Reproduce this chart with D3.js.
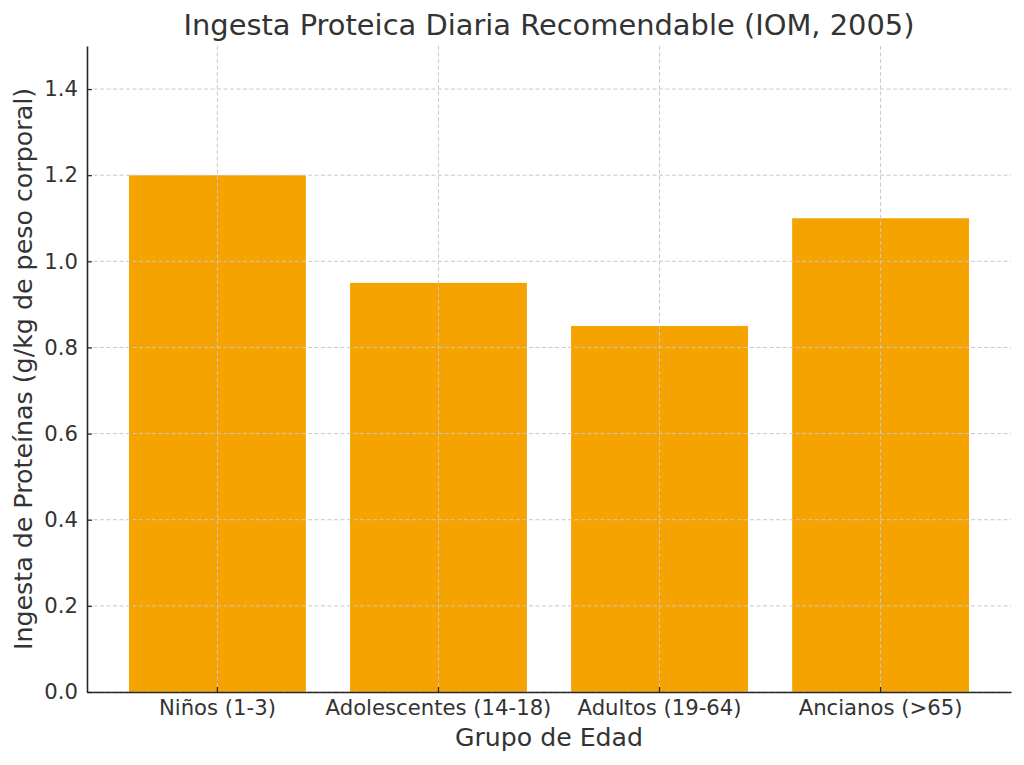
<!DOCTYPE html>
<html><head><meta charset="utf-8">
<script src="https://cdn.jsdelivr.net/npm/d3@7"></script>
<style>body{margin:0;background:#fff}svg{display:block}text{font-family:"DejaVu Sans",sans-serif;fill:#333}</style>
</head><body>
<script>
const categories = ["Niños (1-3)", "Adolescentes (14-18)", "Adultos (19-64)", "Ancianos (>65)"];
const values = [1.2, 0.95, 0.85, 1.1];
const yTicks = [0.0, 0.2, 0.4, 0.6, 0.8, 1.0, 1.2, 1.4];
const title = "Ingesta Proteica Diaria Recomendable (IOM, 2005)";
const xLabel = "Grupo de Edad";
const yLabel = "Ingesta de Proteínas (g/kg de peso corporal)";

const W = 1024, H = 765;
const m = {left: 87, right: 13, top: 46, bottom: 73};
const svg = d3.select("body").append("svg").attr("width", W).attr("height", H);
const x = d3.scaleBand().domain(categories).range([m.left, W - m.right]).paddingInner(0.2).paddingOuter(0.19);
const y = d3.scaleLinear().domain([0, 1.5]).range([H - m.bottom, m.top]);

// bars
svg.append("g").selectAll("rect").data(values).join("rect")
  .attr("x", (d, i) => x(categories[i])).attr("width", x.bandwidth())
  .attr("y", d => y(d)).attr("height", d => y(0) - y(d))
  .attr("fill", "#F4A300");

// grid
const grid = svg.append("g").attr("stroke", "#c8c8c8").attr("stroke-width", 1).attr("stroke-dasharray", "4,2.5");
grid.selectAll(".h").data(yTicks).join("line")
  .attr("x1", m.left).attr("x2", W - m.right).attr("y1", d => y(d)).attr("y2", d => y(d));
grid.selectAll(".v").data(categories).join("line")
  .attr("x1", d => x(d) + x.bandwidth() / 2).attr("x2", d => x(d) + x.bandwidth() / 2)
  .attr("y1", m.top).attr("y2", H - m.bottom);

// axes
const yAxis = svg.append("g").attr("transform", `translate(${m.left},0)`)
  .call(d3.axisLeft(y).tickValues(yTicks).tickFormat(d3.format(".1f")).tickSizeInner(-5).tickSizeOuter(0).tickPadding(9));
const xAxis = svg.append("g").attr("transform", `translate(0,${H - m.bottom})`)
  .call(d3.axisBottom(x).tickSizeInner(-5).tickSizeOuter(0).tickPadding(8));
[yAxis, xAxis].forEach(a => {
  a.select(".domain").attr("stroke", "#262626").attr("stroke-width", 1.6);
  a.selectAll(".tick line").attr("stroke", "#262626").attr("stroke-width", 1.2);
  a.selectAll(".tick text").attr("font-size", 21.2).attr("fill", "#333").attr("font-family", "DejaVu Sans");
});

svg.append("text").attr("x", (m.left + W - m.right) / 2).attr("y", 35).attr("text-anchor", "middle")
  .attr("font-size", 28.9).text(title);
svg.append("text").attr("x", (m.left + W - m.right) / 2).attr("y", 746).attr("text-anchor", "middle")
  .attr("font-size", 25.2).text(xLabel);
svg.append("text").attr("transform", `translate(32,${y(0.75)}) rotate(-90)`).attr("text-anchor", "middle")
  .attr("font-size", 25.3).text(yLabel);
</script>
</body></html>
